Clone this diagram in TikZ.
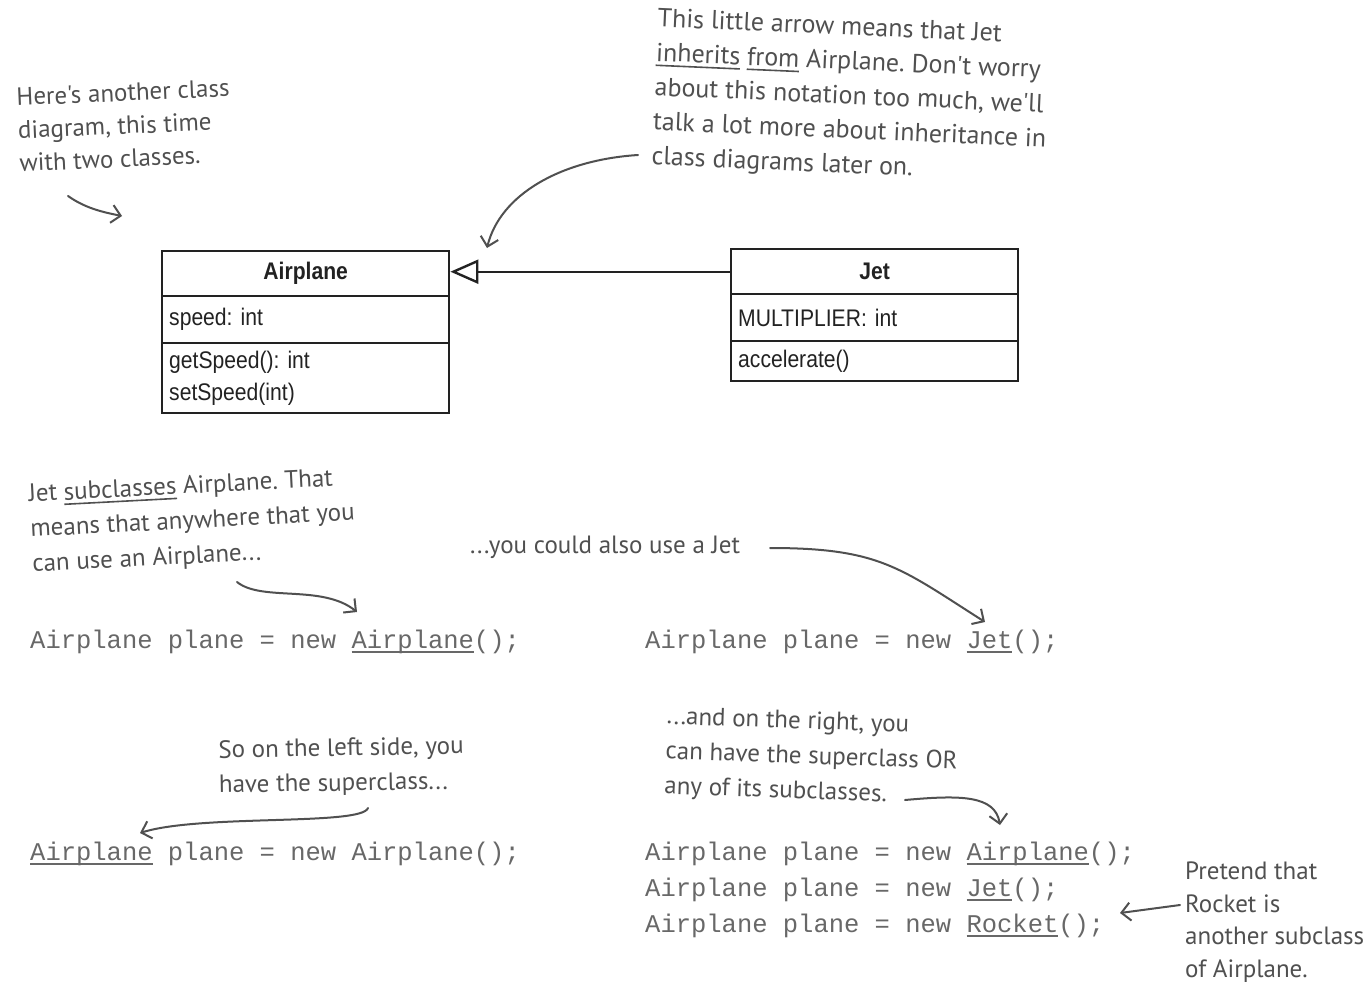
\documentclass[tikz,border=0pt]{standalone}
\usepackage{fontspec}
\setmainfont{Liberation Sans}
\newfontfamily\umlfont[FakeStretch=0.88]{Liberation Sans}
\newfontfamily\handfont{PT Sans}
\newfontfamily\codefont{Liberation Mono}
\usetikzlibrary{arrows.meta}
\definecolor{ink}{HTML}{222222}
\definecolor{hand}{HTML}{505050}
\definecolor{codec}{HTML}{686868}
\newsavebox\ulbox
\newcommand\hul[1]{\sbox\ulbox{#1}\rlap{\rule[-5pt]{\wd\ulbox}{1.6pt}}\usebox\ulbox}
\frenchspacing
\begin{document}
\begin{tikzpicture}[x=1pt, y=-1pt,
  umlbox/.style={draw=ink, line width=2.4pt, minimum width=287pt, inner sep=0pt, anchor=north west, text=ink,
     font=\umlfont\fontsize{24}{32}\selectfont},
  umltitle/.style={umlbox, font=\umlfont\bfseries\fontsize{24}{32}\selectfont},
  umlrow/.style={umlbox, text width=273pt, inner xsep=7pt, align=left},
  note/.style={font=\handfont\fontsize{25}{35}\selectfont, text=hand, align=left, anchor=north west, inner sep=0pt},
  codeline/.style={font=\codefont\fontsize{25.5}{36}\selectfont, text=codec, anchor=base west, inner sep=0pt},
  handarrow/.style={draw=hand, line width=2pt, line cap=round, -{Straight Barb[length=9pt,width=18pt]}}
]
\useasboundingbox[fill=white] (0,0) rectangle (1365,990);

% --- class boxes ---
\node[umltitle, minimum height=45pt] (airT) at (161,250) {Airplane};
\node[umlrow, minimum height=47pt] (airA) at (161,295) {speed: int};
\node[umlrow, minimum height=70pt] (airM) at (161,342) {getSpeed(): int\\setSpeed(int)};

\node[umltitle, minimum height=45pt] (jetT) at (730,248) {Jet};
\node[umlrow, minimum height=47pt] (jetA) at (730,293) {MULTIPLIER: int};
\node[umlrow, minimum height=40pt] (jetM) at (730,340) {accelerate()};

\draw[draw=ink, line width=2.4pt, -{Triangle[open, length=28pt, width=24pt, line width=2.4pt]}]
  (jetT.west) -- (airT.east |- jetT.west);

% --- notes ---
\node[note, rotate=2.5, font=\handfont\fontsize{25}{33}\selectfont] (n1) at (16,88) {Here's another class\\diagram, this time\\with two classes.};
\node[note, rotate=-2.5, font=\handfont\fontsize{26}{34.5}\selectfont] (n2) at (658,8) {This little arrow means that Jet\\\hul{inherits} \hul{from} Airplane. Don't worry\\about this notation too much, we'll\\talk a lot more about inheritance in\\class diagrams later on.};
\node[note, rotate=3] (n3) at (28,484) {Jet \hul{subclasses} Airplane. That\\means that anywhere that you\\can use an Airplane...};
\node[note] (n4) at (470,536) {...you could also use a Jet};
\node[note, rotate=1] (n5) at (218,740) {So on the left side, you\\have the superclass...};
\node[note, rotate=-2] (n6) at (667,706) {...and on the right, you\\can have the superclass OR\\any of its subclasses.};
\node[note, font=\handfont\fontsize{25}{32.5}\selectfont] (n7) at (1185,862) {Pretend that\\Rocket is\\another subclass\\of Airplane.};

% --- code ---
\node[codeline] (c1) at (30,648) {Airplane plane = new \hul{Airplane}();};
\node[codeline] (c2) at (645,648) {Airplane plane = new \hul{Jet}();};
\node[codeline] (c3) at (30,860) {\hul{Airplane} plane = new Airplane();};
\node[codeline] (c4) at (645,860) {Airplane plane = new \hul{Airplane}();};
\node[codeline] (c5) at (645,896) {Airplane plane = new \hul{Jet}();};
\node[codeline] (c6) at (645,932) {Airplane plane = new \hul{Rocket}();};

% --- hand arrows ---
\coordinate (a1s) at (68,196);  \coordinate (a1e) at (122,216);
\coordinate (a2s) at (638,155); \coordinate (a2e) at (487,248);
\coordinate (a3s) at (237,582); \coordinate (a3e) at (357,612);
\coordinate (a4s) at (770,548); \coordinate (a4e) at (985,622);
\coordinate (a5s) at (368,808); \coordinate (a5e) at (140,833);
\coordinate (a6s) at (905,800); \coordinate (a6e) at (1000,825);
\coordinate (a7s) at (1180,905); \coordinate (a7e) at (1120,913);

\draw[handarrow] (a1s) .. controls (85,208) and (102,212) .. (a1e);
\draw[handarrow] (a2s) .. controls (560,160) and (500,195) .. (a2e);
\draw[handarrow] (a3s) .. controls (262,602) and (322,584) .. (a3e);
\draw[handarrow] (a4s) .. controls (880,548) and (900,568) .. (a4e);
\draw[handarrow] (a5s) .. controls (362,826) and (200,814) .. (a5e);
\draw[handarrow] (a6s) .. controls (960,795) and (995,795) .. (a6e);
\draw[handarrow] (a7s) -- (a7e);
\end{tikzpicture}
\end{document}
